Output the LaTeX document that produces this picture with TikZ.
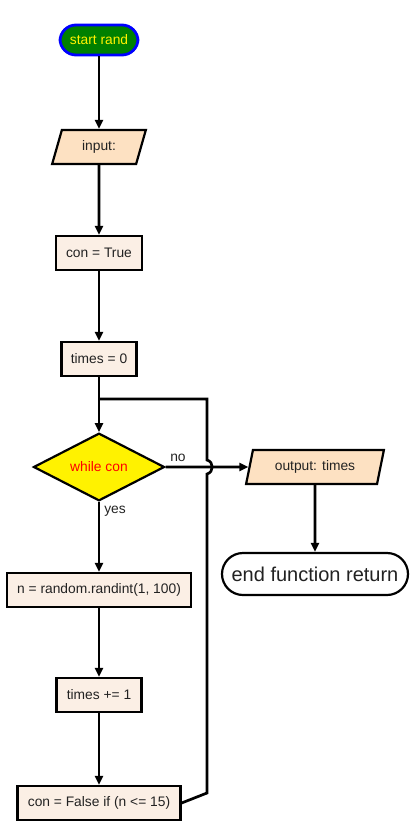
\documentclass[tikz,border=0pt]{standalone}
\usepackage{fontspec}
\setmainfont{Liberation Sans}
\usetikzlibrary{shapes.geometric,arrows.meta}
\definecolor{txt}{HTML}{222222}
\definecolor{parafill}{HTML}{FDE1C2}
\definecolor{boxfill}{HTML}{FBEFE5}
\tikzset{
  base/.style={font=\fontsize{13.8}{15}\selectfont, text=txt, inner sep=0pt},
  startnode/.style={base, draw=blue, fill=green!50!black, text=yellow, line width=2.8pt, rounded corners=16pt, minimum width=78pt, minimum height=30pt},
  endnode/.style={base, draw=black, fill=white, line width=2.2pt, rounded corners=21pt, minimum width=186pt, minimum height=42pt, font=\fontsize{20}{22}\selectfont},
  procbox/.style={base, draw=black, fill=boxfill, line width=2.2pt, minimum height=34pt},
  iobox/.style={base, draw=black, fill=parafill, line width=2.2pt, trapezium, trapezium left angle=71, trapezium right angle=109, trapezium stretches=true, minimum height=34pt},
  decbox/.style={base, draw=black, fill=yellow, text=red, line width=2.2pt, diamond, minimum width=131pt, minimum height=64pt},
  conn/.style={line width=2.7pt, -{Triangle[length=9pt,width=8pt]}},
  plain/.style={line width=2.7pt},
  lbl/.style={font=\fontsize{13.8}{15}\selectfont, text=txt, inner sep=0pt}
}
\begin{document}
\begin{tikzpicture}[x=1pt,y=-1pt]
\useasboundingbox (0,0) rectangle (412,825);
\node[startnode] (start) at (99,40) {start rand};
\node[iobox, minimum width=94pt] (input) at (99,147) {input:};
\node[procbox, minimum width=86pt] (ct) at (99,253) {con = True};
\node[procbox, minimum width=75pt] (t0) at (99,359) {times = 0};
\node[decbox] (wc) at (99,467) {while con};
\node[iobox, minimum width=138pt] (out) at (315,467) {output: times};
\node[endnode] (end) at (315,574) {end function return};
\node[procbox, minimum width=184pt] (rnd) at (99,590) {n = random.randint(1, 100)};
\node[procbox, minimum width=85pt] (tp) at (99,695) {times += 1};
\node[procbox, minimum width=163pt] (cf) at (99,803) {con = False if (n <= 15)};
\coordinate (c1) at (207,793);
\coordinate (c2) at (207,474);
\coordinate (c3) at (207,460);
\coordinate (c4) at (207,399);
\coordinate (c5) at (99,399);
\draw[conn] (start) -- (input);
\draw[conn] (input) -- (ct);
\draw[conn] (ct) -- (t0);
\draw[conn] (t0) -- (wc);
\draw[conn] (wc) -- (rnd);
\draw[conn] (rnd) -- (tp);
\draw[conn] (tp) -- (cf);
\draw[conn] (wc.east) -- (out.west);
\draw[conn] (out) -- (end);
\draw[plain, line join=miter] (cf.east) -- (c1) -- (c2) .. controls (214,472) and (214,462) .. (c3) -- (c4) -- (c5);
\node[lbl] (no) at (178,458) {no};
\node[lbl] (yes) at (115,511) {yes};
\end{tikzpicture}
\end{document}
